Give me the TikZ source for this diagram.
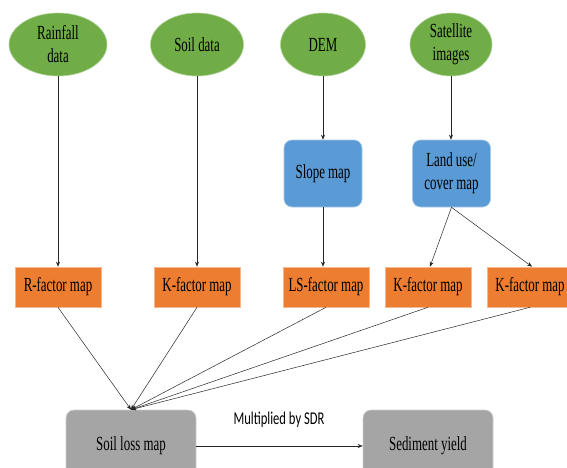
\documentclass[tikz,border=0pt]{standalone}
\usepackage{fontspec}
\setmainfont{Liberation Serif}[FakeStretch=0.645]
\newfontfamily\sansc{Carlito}[FakeStretch=0.70]
\usetikzlibrary{shapes.geometric,arrows.meta}
\definecolor{egreen}{HTML}{70AD47}
\definecolor{eblue}{HTML}{5B9BD5}
\definecolor{eorange}{HTML}{ED7D31}
\definecolor{egray}{HTML}{A5A5A5}
\begin{document}
\begin{tikzpicture}[x=1pt,y=-1pt,
  txt/.style={font=\rmfamily\fontsize{20}{23}\selectfont, align=center, text=black, inner sep=0pt},
  src/.style={txt, ellipse, fill=egreen, draw=egreen!55!white, line width=0.6pt, minimum height=63pt},
  proc/.style={txt, rectangle, rounded corners=8pt, fill=eblue, draw=eblue!55!white, line width=0.6pt, minimum width=78pt, minimum height=67pt},
  fac/.style={txt, rectangle, fill=eorange, draw=eorange!55!white, line width=0.6pt, minimum width=86pt, minimum height=40pt},
  res/.style={txt, rectangle, rounded corners=8pt, fill=egray, draw=egray!55!white, line width=0.6pt, minimum width=130pt, minimum height=72pt},
  arr/.style={-{Stealth[length=5pt,width=4pt]}, line width=0.5pt, draw=black!85}]
\useasboundingbox (0,0) rectangle (567,468);
% sources
\node[src, minimum width=98pt] (rain) at (58,44.5) {Rainfall\\data};
\node[src, minimum width=93pt] (soil) at (197,44.5) {Soil data};
\node[src, minimum width=85pt] (dem) at (323,44.5) {DEM};
\node[src, minimum width=82pt] (sat) at (451,44.5) {Satellite\\images};
% intermediate
\node[proc] (slope) at (323,173.5) {Slope map};
\node[proc] (land) at (451.5,173.5) {Land use/\\cover map};
% factors
\node[fac] (rf) at (58,287) {R-factor map};
\node[fac] (kf) at (197,287) {K-factor map};
\node[fac] (ls) at (326,287) {LS-factor map};
\node[fac] (k2) at (428,287) {K-factor map};
\node[fac] (k3) at (530,287) {K-factor map};
% results
\node[res] (loss) at (131,446) {Soil loss map};
\node[res] (sed) at (428,446) {Sediment yield};
\node[font=\sansc\fontsize{18}{22}\selectfont, inner sep=0pt] (lab) at (279,420) {Multiplied by SDR};
% connectors
\draw[arr] (rain.south) -- (rain.south |- rf.north);
\draw[arr] (soil.south) -- (soil.south |- kf.north);
\draw[arr] (dem.south) -- (dem.south |- slope.north);
\draw[arr] (sat.south) -- (sat.south |- land.north);
\draw[arr] (slope.south) -- (slope.south |- ls.north);
\draw[arr] (land.south) -- ([xshift=2pt]k2.north);
\draw[arr] (land.south) -- ([xshift=2pt]k3.north);
\draw[arr] (rf.south) -- (loss.north);
\draw[arr] (kf.south) -- (loss.north);
\draw[arr] (ls.south) -- (loss.north);
\draw[arr] (k2.south) -- (loss.north);
\draw[arr] (k3.south) -- (loss.north);
\draw[arr] (loss.east) -- (sed.west);
\end{tikzpicture}
\end{document}
